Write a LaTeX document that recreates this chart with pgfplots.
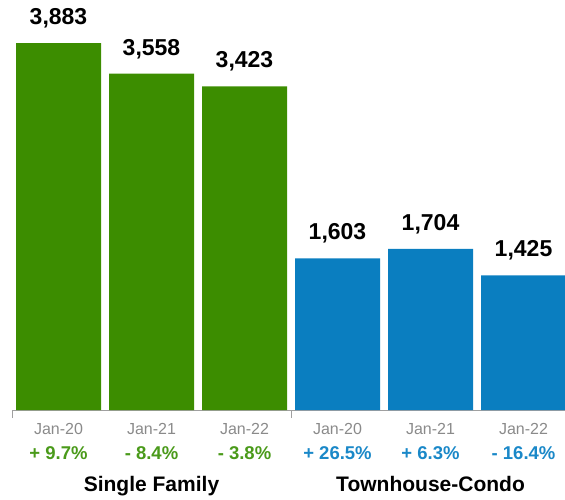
\documentclass[border=0pt]{standalone}
\usepackage{pgfplots}
\pgfplotsset{compat=1.18}
\usepackage{fontspec}
\setmainfont{Liberation Sans}
\definecolor{sfgreen}{HTML}{3C8D00}
\definecolor{tcblue}{HTML}{0A7EC0}
\definecolor{sftext}{HTML}{4A9A1A}
\definecolor{tctext}{HTML}{1A88C8}
\definecolor{axisgray}{HTML}{A0A0A0}
\definecolor{labelgray}{HTML}{8A8A8A}

\begin{document}
\begin{tikzpicture}
\begin{axis}[
    scale only axis,
    width=553pt, height=410pt,
    xmin=-0.5, xmax=5.446,
    ymin=0, ymax=4338,
    axis x line=bottom, axis y line=none,
    x axis line style={-, draw=axisgray},
    xtick={0,...,5},
    xticklabels={Jan-20,Jan-21,Jan-22,Jan-20,Jan-21,Jan-22},
    major tick length=0pt,
    xticklabel style={font=\fontsize{16}{18}\selectfont, text=labelgray, anchor=base, yshift=-24pt},
    extra x ticks={-0.5,2.5},
    extra x tick labels={},
    extra x tick style={major tick length=8pt, tick align=outside, tick style={draw=axisgray}},
    ytick=\empty,
    clip=false,
    nodes near coords={\pgfmathprintnumber[1000 sep={,}, assume math mode=true]{\pgfplotspointmeta}},
    every node near coord/.append style={font=\bfseries\fontsize{23}{25}\selectfont, text=black, anchor=base, yshift=18.5pt},
]
    \addplot[ybar, bar width=85pt, fill=sfgreen, draw=none] coordinates {
        (0, 3883)
        (1, 3558)
        (2, 3423)
    };
    \addplot[ybar, bar width=85pt, fill=tcblue, draw=none] coordinates {
        (3, 1603)
        (4, 1704)
        (5, 1425)
    };

    % year-over-year change under each tick
    \node[font=\bfseries\fontsize{18.5}{20}\selectfont, text=sftext, anchor=base, yshift=-49pt] at (axis cs:0,0) {+ 9.7\%};
    \node[font=\bfseries\fontsize{18.5}{20}\selectfont, text=sftext, anchor=base, yshift=-49pt] at (axis cs:1,0) {- 8.4\%};
    \node[font=\bfseries\fontsize{18.5}{20}\selectfont, text=sftext, anchor=base, yshift=-49pt] at (axis cs:2,0) {- 3.8\%};
    \node[font=\bfseries\fontsize{18.5}{20}\selectfont, text=tctext, anchor=base, yshift=-49pt] at (axis cs:3,0) {+ 26.5\%};
    \node[font=\bfseries\fontsize{18.5}{20}\selectfont, text=tctext, anchor=base, yshift=-49pt] at (axis cs:4,0) {+ 6.3\%};
    \node[font=\bfseries\fontsize{18.5}{20}\selectfont, text=tctext, anchor=base, yshift=-49pt] at (axis cs:5,0) {- 16.4\%};

    % group names
    \node[font=\bfseries\fontsize{21}{23}\selectfont, anchor=base, yshift=-81pt] at (axis cs:1,0) {Single Family};
    \node[font=\bfseries\fontsize{21}{23}\selectfont, anchor=base, yshift=-81pt] at (axis cs:4,0) {Townhouse-Condo};
\end{axis}
\pgfresetboundingbox
\path[use as bounding box] (-12pt,-89pt) rectangle (553pt,410pt);
\end{tikzpicture}
\end{document}
